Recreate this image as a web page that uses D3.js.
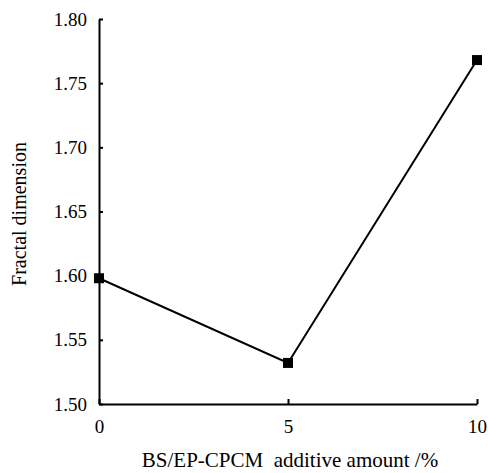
<!DOCTYPE html>
<html lang="en">
<head>
<meta charset="UTF-8">
<title>Fractal dimension</title>
<style>
  body { margin: 0; background: #fff; }
  svg { display: block; }
  .axis path, .axis line { stroke: #000; stroke-width: 2px; }
  svg text { font-family: "Liberation Serif", "Times New Roman", serif; fill: #000; }
</style>
</head>
<body>
<div id="chart"></div>
<script src="https://d3js.org/d3.v7.min.js"></script>
<script>
  // data
  const amounts = [0, 5, 10];
  const fractalDim = [1.598, 1.532, 1.768];
  const yTicks = [1.50, 1.55, 1.60, 1.65, 1.70, 1.75, 1.80];
  const xTicks = [0, 5, 10];

  const width = 488, height = 473;
  const margin = {top: 19, right: 11, bottom: 69, left: 99};

  const svg = d3.select("#chart").append("svg")
    .attr("width", width)
    .attr("height", height);

  const x = d3.scaleLinear().domain([0, 10]).range([margin.left, width - margin.right]);
  const y = d3.scaleLinear().domain([1.50, 1.80]).range([height - margin.bottom, margin.top]);

  // x axis, ticks point inward
  svg.append("g")
    .attr("class", "axis")
    .attr("transform", `translate(0,${y(1.50)})`)
    .call(d3.axisBottom(x).tickValues(xTicks).tickSizeInner(-5).tickSizeOuter(0).tickPadding(16).tickFormat(d3.format("d")))
    .attr("font-size", 19);

  svg.append("g")
    .attr("class", "axis")
    .attr("transform", `translate(${x(0)},0)`)
    .call(d3.axisLeft(y).tickValues(yTicks).tickSizeInner(-4).tickSizeOuter(0).tickPadding(12).tickFormat(d3.format(".2f")))
    .attr("font-size", 19);

  // line
  const pts = amounts.map((a, i) => [a, fractalDim[i]]);
  svg.append("path")
    .datum(pts)
    .attr("fill", "none")
    .attr("stroke", "#000")
    .attr("stroke-width", 2)
    .attr("d", d3.line().x(d => x(d[0])).y(d => y(d[1])));

  // square markers
  svg.selectAll(".mark")
    .data(pts)
    .enter().append("rect")
    .attr("class", "mark")
    .attr("x", d => x(d[0]) - 5)
    .attr("y", d => y(d[1]) - 5)
    .attr("width", 10)
    .attr("height", 10)
    .attr("fill", "#000");

  // axis titles
  svg.append("text")
    .attr("x", 290)
    .attr("y", 467)
    .attr("text-anchor", "middle")
    .attr("font-size", 21)
    .style("white-space", "pre")
    .text("BS/EP-CPCM  additive amount /%");

  svg.append("text")
    .attr("transform", "translate(26,214) rotate(-90)")
    .attr("text-anchor", "middle")
    .attr("font-size", 20)
    .text("Fractal dimension");
</script>
</body>
</html>
